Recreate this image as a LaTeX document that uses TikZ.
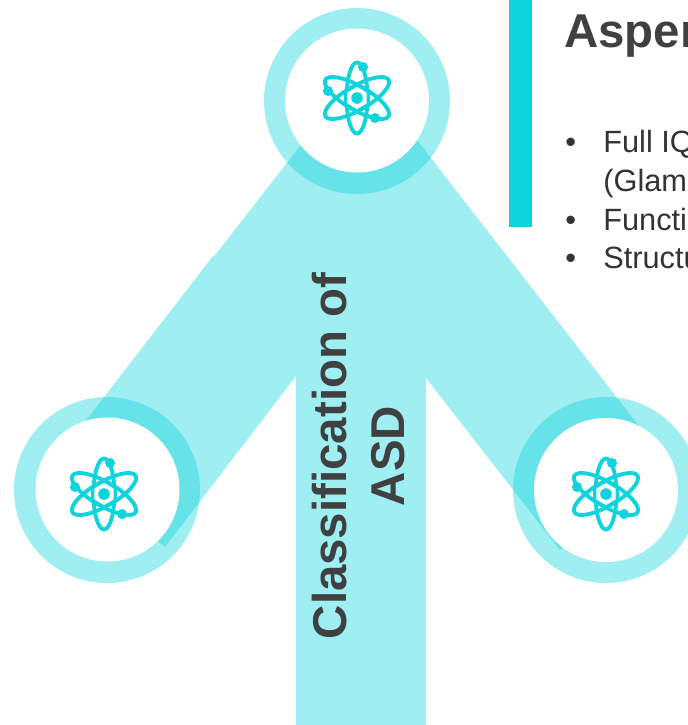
\documentclass[tikz,border=0pt]{standalone}
\usepackage{fontspec}
\setmainfont{Liberation Sans}
\definecolor{atomcyan}{HTML}{0FD4DC}
\definecolor{titlegrey}{HTML}{404040}
\definecolor{bodygrey}{HTML}{333333}
\tikzset{
  halo/.style={fill=atomcyan,fill opacity=0.4},
  orbit/.style={draw=atomcyan,line width=2.2pt},
  heading/.style={font=\fontsize{27}{33}\selectfont\bfseries,text=titlegrey,inner sep=0pt},
  bodyline/.style={font=\fontsize{17.5}{19}\selectfont,text=bodygrey,anchor=base west,inner sep=0pt}
}
\newcommand{\atomicon}[2]{
  \begin{scope}[shift={(#1,#2)}]
    \draw[orbit] (0,0) ellipse (10.5 and 35.5);
    \draw[orbit,rotate=30] (0,0) ellipse (36.5 and 12);
    \draw[orbit,rotate=-30] (0,0) ellipse (36.5 and 12);
    \draw[orbit,fill=white,line width=1.8pt] (0,-13) -- (11.3,-6.5) -- (11.3,6.5) -- (0,13) -- (-11.3,6.5) -- (-11.3,-6.5) -- cycle;
    \fill[atomcyan] (0,0) circle (5.8);
    \fill[atomcyan] (6,-31) circle (5);
    \fill[atomcyan] (-29,-7) circle (5);
    \fill[atomcyan] (18,20) circle (5);
  \end{scope}
}

\begin{document}
\begin{tikzpicture}[x=0.02cm,y=-0.02cm]
	\useasboundingbox (0,0) rectangle (688,725);
	\clip (0,0) rectangle (688,725);
	%ARROW
	\fill[atomcyan!40] (296,725) -- (296,376) -- (165,547) -- (57,458) -- (213,256) -- (214.3,256) -- (361,68) -- (667,462) -- (560,550) -- (426,378) -- (426,725) -- cycle;
	%RINGS
	\fill[halo] (357,101) circle (93);
	\fill[halo] (107,490) circle (93);
	\fill[halo] (606,490) circle (93);
	\fill[white] (357,100.5) circle (72);
	\fill[white] (107.5,489.5) circle (72);
	\fill[white] (606,490) circle (72);
	%ICONS
	\atomicon{357}{98}
	\atomicon{104}{494}
	\atomicon{606}{494}
	%BAR
	\fill[atomcyan] (509,0) rectangle (532,227);
	%TEXT
	\node[heading,rotate=90,align=center] (classes) at (359,456) {Classification of\\ASD};
	\node[heading,anchor=base west] (aspects) at (564,47) {Asper};
	\node[bodyline] (bullA) at (565,152) {•};
	\node[bodyline] (lineA) at (603,152) {Full IQ};
	\node[bodyline] (lineAb) at (603,191) {(Glam};
	\node[bodyline] (bullB) at (565,230) {•};
	\node[bodyline] (lineB) at (603,230) {Functi};
	\node[bodyline] (bullC) at (565,268) {•};
	\node[bodyline] (lineC) at (603,268) {Structu};
\end{tikzpicture}
\end{document}
